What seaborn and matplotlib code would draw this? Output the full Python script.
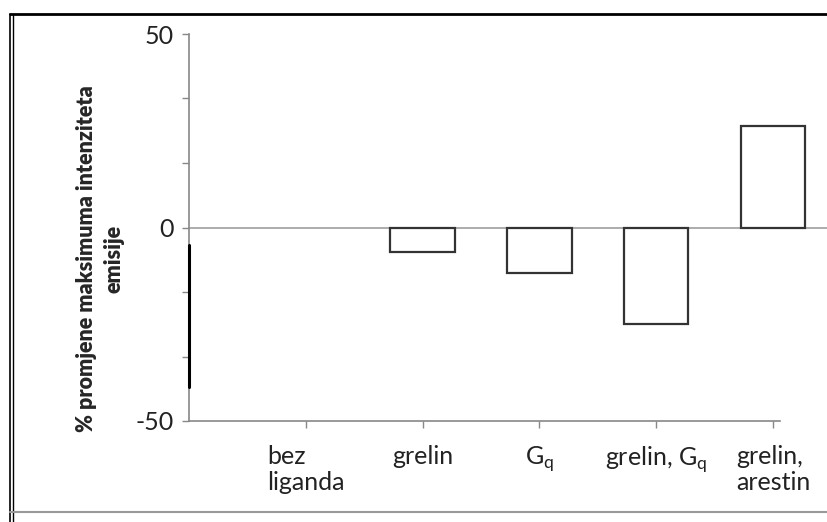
import numpy as np
import pandas as pd
import seaborn as sns
import matplotlib.pyplot as plt
from matplotlib.lines import Line2D

# podaci
kategorije = ['bez\nliganda', 'grelin', 'G$_\\mathregular{q}$', 'grelin, G$_\\mathregular{q}$', 'grelin,\narestin']
promjena = [0.0, -6.3, -11.8, -25.0, 26.1]
y_oznake = [-50, 0, 50]

sns.set_style('white')
plt.rcParams['font.family'] = ['Lato', 'DejaVu Sans']
plt.rcParams['mathtext.fontset'] = 'custom'
plt.rcParams['mathtext.rm'] = 'Lato'
plt.rcParams['axes.unicode_minus'] = False

df = pd.DataFrame({'uzorak': kategorije, 'promjena': promjena})

W, H = 828, 522
fig = plt.figure(figsize=(W / 100, H / 100), dpi=100)
ax = fig.add_axes([189 / W, 1 - 421 / H, (780 - 189) / W, (421 - 34) / H])

ax.axhline(0, xmin=0, xmax=(828 - 189) / (780 - 189), color='#a6a6a6', lw=1.3,
           clip_on=False, zorder=0)
sns.barplot(data=df, x='uzorak', y='promjena', color='white', edgecolor='#333333',
            linewidth=1.6, width=0.55, ax=ax, zorder=2)
for p in ax.patches:
    p.set_clip_on(False)
    if p.get_height() == 0:
        p.set_linewidth(0)

ax.set_ylim(-50, 50)
ax.set_xlim(-1, 4.06)
ax.set_yticks(y_oznake)
ax.set_yticks(np.linspace(-50, 50, 7), minor=True)
ax.set_xticks(range(len(kategorije)))
ax.set_xticklabels(kategorije, fontsize=18, color='#222222', linespacing=1.2,
                   multialignment='left', va='top')
ax.tick_params(axis='y', which='both', direction='out', length=5, width=1,
               color='#888888', labelsize=18, labelcolor='#222222', pad=6, left=True)
ax.tick_params(axis='x', direction='out', length=5, width=1, color='#888888',
               pad=12, bottom=True)
ax.set_xlabel('')
ax.set_ylabel('')
for s in ['top', 'right']:
    ax.spines[s].set_visible(False)
for s in ['left', 'bottom']:
    ax.spines[s].set_color('#888888')
    ax.spines[s].set_linewidth(1.2)

# crna crta uz lijevu os (kao na originalu)
ax.axvline(-1, ymin=(50 - 4.6) / 100, ymax=(50 - 41.3) / 100, color='black',
           lw=2.2, zorder=3, clip_on=False)

fig.text(100 / W, 1 - 259 / H, '% promjene maksimuma intenziteta\nemisije',
         rotation=90, ha='center', va='center', multialignment='center',
         fontsize=15.5, fontweight='heavy', linespacing=1.4)

# okvir slike
fig.add_artist(Line2D([10 / W, 10 / W], [0, 1 - 14 / H], color='black', lw=1.2))
fig.add_artist(Line2D([13 / W, 13 / W], [0, 1 - 14 / H], color='black', lw=1.0))
fig.add_artist(Line2D([10 / W, 1], [1 - 14 / H, 1 - 14 / H], color='black', lw=2))
fig.add_artist(Line2D([10 / W, 1], [1 - 512 / H, 1 - 512 / H], color='#999999', lw=1.5))

plt.savefig('out.png', dpi=100)
